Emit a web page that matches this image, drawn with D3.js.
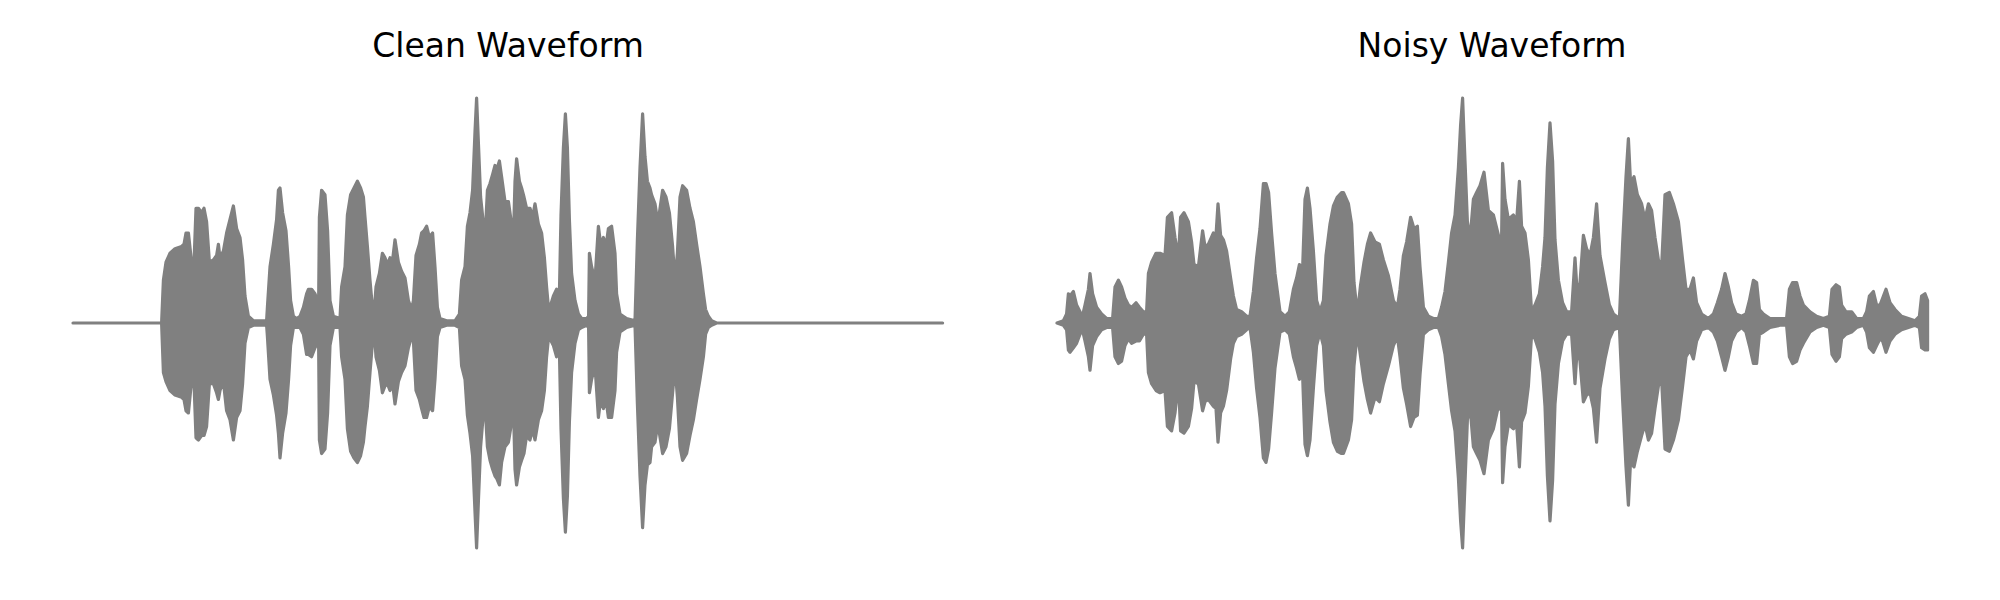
<!DOCTYPE html>
<html>
<head>
<meta charset="utf-8">
<script src="https://cdn.jsdelivr.net/npm/d3@7"></script>
<style>
  html, body { margin: 0; padding: 0; background: #ffffff; }
  svg { display: block; }
</style>
</head>
<body>
<svg id="chart" width="2000" height="600"></svg>
<script>
// ---------- DATA (time in s, envelope max, envelope min) ----------
const panelTitles = ["Clean Waveform", "Noisy Waveform"];
const duration = 4.35;

const cleanEnvelope = [
[0,0,0],[0.443,0,0],[0.452,0.19,-0.22],[0.465,0.27,-0.26],[0.485,0.31,-0.30],[0.51,0.33,-0.32],
[0.543,0.34,-0.33],[0.555,0.35,-0.34],[0.565,0.40,-0.39],[0.577,0.40,-0.40],[0.588,0.31,-0.30],
[0.602,0.19,-0.19],[0.615,0.51,-0.51],[0.627,0.51,-0.52],[0.643,0.49,-0.50],[0.655,0.51,-0.50],
[0.668,0.45,-0.46],[0.682,0.27,-0.27],[0.702,0.28,-0.27],[0.718,0.30,-0.31],[0.727,0.35,-0.34],
[0.735,0.29,-0.30],[0.752,0.32,-0.26],[0.768,0.40,-0.39],[0.785,0.46,-0.43],[0.802,0.52,-0.52],
[0.818,0.42,-0.42],[0.835,0.38,-0.39],[0.848,0.28,-0.27],[0.86,0.12,-0.09],[0.877,0.03,-0.02],
[0.902,0.01,-0.01],[0.968,0.01,-0.01],[0.972,0.07,-0.06],[0.985,0.25,-0.25],[1.002,0.35,-0.32],
[1.018,0.46,-0.41],[1.027,0.59,-0.49],[1.035,0.60,-0.60],[1.048,0.49,-0.49],[1.065,0.41,-0.40],
[1.078,0.25,-0.25],[1.088,0.10,-0.10],[1.102,0.03,-0.02],[1.118,0.02,-0.02],[1.135,0.03,-0.02],
[1.152,0.07,-0.05],[1.168,0.13,-0.14],[1.177,0.15,-0.14],[1.193,0.15,-0.15],[1.21,0.13,-0.11],
[1.222,0.10,-0.09],[1.228,0.08,-0.08],[1.232,0.47,-0.52],[1.243,0.59,-0.58],[1.26,0.57,-0.56],
[1.273,0.41,-0.40],[1.285,0.10,-0.10],[1.302,0.03,-0.02],[1.335,0.02,-0.02],[1.343,0.16,-0.15],
[1.36,0.25,-0.25],[1.372,0.48,-0.47],[1.388,0.57,-0.57],[1.405,0.60,-0.60],[1.422,0.63,-0.62],
[1.438,0.60,-0.59],[1.452,0.56,-0.53],[1.46,0.47,-0.46],[1.472,0.34,-0.37],[1.485,0.19,-0.22],
[1.498,0.06,-0.08],[1.505,0.04,-0.02],[1.515,0.16,-0.15],[1.532,0.22,-0.21],[1.547,0.31,-0.31],
[1.56,0.29,-0.28],[1.572,0.26,-0.27],[1.585,0.29,-0.30],[1.598,0.28,-0.27],[1.61,0.37,-0.36],
[1.627,0.27,-0.26],[1.643,0.23,-0.22],[1.66,0.20,-0.19],[1.677,0.10,-0.11],[1.693,0.06,-0.06],
[1.702,0.10,-0.08],[1.715,0.30,-0.30],[1.732,0.35,-0.34],[1.743,0.40,-0.38],[1.755,0.41,-0.42],
[1.768,0.43,-0.42],[1.782,0.38,-0.37],[1.798,0.40,-0.39],[1.81,0.25,-0.25],[1.822,0.07,-0.06],
[1.835,0.02,-0.02],[1.868,0.01,-0.01],[1.91,0.01,-0.01],[1.932,0.04,-0.02],[1.943,0.19,-0.19],
[1.96,0.25,-0.25],[1.972,0.43,-0.41],[1.985,0.49,-0.49],[1.998,0.59,-0.59],[2.01,0.85,-0.84],
[2.018,1.00,-1.00],[2.028,0.78,-0.77],[2.038,0.56,-0.55],[2.052,0.44,-0.40],[2.06,0.37,-0.36],
[2.072,0.59,-0.55],[2.085,0.62,-0.61],[2.098,0.66,-0.65],[2.11,0.70,-0.68],[2.118,0.68,-0.69],
[2.132,0.72,-0.72],[2.143,0.65,-0.62],[2.16,0.54,-0.55],[2.177,0.54,-0.53],[2.188,0.47,-0.47],
[2.202,0.37,-0.36],[2.21,0.63,-0.65],[2.218,0.73,-0.72],[2.232,0.63,-0.64],[2.243,0.60,-0.61],
[2.255,0.56,-0.58],[2.268,0.51,-0.50],[2.285,0.51,-0.52],[2.298,0.47,-0.47],[2.31,0.53,-0.52],
[2.327,0.44,-0.43],[2.343,0.40,-0.39],[2.357,0.29,-0.30],[2.368,0.16,-0.15],[2.377,0.07,-0.07],
[2.385,0.07,-0.07],[2.402,0.12,-0.10],[2.418,0.15,-0.15],[2.432,0.13,-0.12],[2.44,0.48,-0.47],
[2.452,0.78,-0.78],[2.462,0.93,-0.93],[2.472,0.78,-0.77],[2.482,0.46,-0.44],[2.493,0.22,-0.22],
[2.51,0.10,-0.09],[2.527,0.04,-0.03],[2.543,0.02,-0.02],[2.568,0.02,-0.01],[2.578,0.03,-0.02],
[2.582,0.31,-0.31],[2.593,0.25,-0.25],[2.61,0.19,-0.19],[2.627,0.43,-0.42],[2.638,0.35,-0.34],
[2.652,0.38,-0.38],[2.665,0.34,-0.34],[2.677,0.42,-0.42],[2.693,0.43,-0.42],[2.71,0.31,-0.30],
[2.718,0.13,-0.13],[2.735,0.04,-0.04],[2.768,0.02,-0.02],[2.81,0.01,-0.01],[2.822,0.37,-0.36],
[2.835,0.69,-0.68],[2.848,0.93,-0.91],[2.86,0.74,-0.72],[2.872,0.63,-0.63],[2.885,0.60,-0.62],
[2.893,0.57,-0.55],[2.91,0.53,-0.53],[2.922,0.46,-0.46],[2.932,0.49,-0.49],[2.948,0.59,-0.58],
[2.965,0.56,-0.55],[2.982,0.49,-0.47],[2.998,0.34,-0.31],[3.01,0.19,-0.19],[3.022,0.31,-0.33],
[3.035,0.56,-0.55],[3.048,0.61,-0.61],[3.068,0.59,-0.58],[3.085,0.51,-0.50],[3.102,0.45,-0.43],
[3.118,0.35,-0.34],[3.135,0.25,-0.25],[3.152,0.13,-0.15],[3.163,0.06,-0.05],[3.177,0.03,-0.02],
[3.193,0.01,-0.01],[3.218,0,0],[4.348,0,0]
];

const noisyEnvelope = [
[0,0,0],[0.032,0.01,-0.01],[0.048,0.04,-0.03],[0.057,0.13,-0.12],[0.065,0.12,-0.13],[0.082,0.14,-0.11],
[0.098,0.08,-0.09],[0.115,0.05,-0.05],[0.127,0.03,-0.03],[0.14,0.08,-0.08],[0.157,0.15,-0.15],
[0.165,0.22,-0.21],[0.178,0.13,-0.10],[0.198,0.07,-0.06],[0.223,0.04,-0.03],[0.248,0.02,-0.02],
[0.278,0.02,-0.02],[0.29,0.16,-0.15],[0.307,0.19,-0.18],[0.323,0.16,-0.17],[0.34,0.11,-0.10],
[0.357,0.08,-0.07],[0.373,0.07,-0.09],[0.395,0.09,-0.08],[0.412,0.07,-0.08],[0.432,0.05,-0.05],
[0.448,0.05,-0.05],[0.457,0.22,-0.22],[0.473,0.27,-0.27],[0.495,0.31,-0.30],[0.515,0.31,-0.31],
[0.54,0.30,-0.30],[0.552,0.47,-0.46],[0.573,0.49,-0.48],[0.59,0.38,-0.40],[0.607,0.29,-0.26],
[0.618,0.47,-0.48],[0.635,0.49,-0.49],[0.657,0.45,-0.46],[0.673,0.36,-0.38],[0.685,0.26,-0.26],
[0.707,0.25,-0.27],[0.728,0.41,-0.39],[0.74,0.34,-0.35],[0.757,0.35,-0.34],[0.782,0.40,-0.37],
[0.795,0.39,-0.38],[0.805,0.53,-0.53],[0.818,0.39,-0.40],[0.832,0.37,-0.37],[0.848,0.32,-0.30],
[0.868,0.20,-0.16],[0.882,0.12,-0.09],[0.898,0.06,-0.06],[0.923,0.05,-0.05],[0.948,0.03,-0.03],
[0.965,0.03,-0.02],[0.982,0.14,-0.13],[0.998,0.29,-0.29],[1.015,0.42,-0.42],[1.032,0.62,-0.60],
[1.045,0.62,-0.62],[1.058,0.58,-0.56],[1.073,0.40,-0.40],[1.09,0.22,-0.20],[1.115,0.05,-0.04],
[1.14,0.03,-0.03],[1.162,0.05,-0.05],[1.182,0.15,-0.15],[1.198,0.20,-0.20],[1.212,0.26,-0.25],
[1.228,0.24,-0.23],[1.24,0.55,-0.54],[1.252,0.60,-0.59],[1.265,0.51,-0.52],[1.282,0.32,-0.29],
[1.298,0.10,-0.10],[1.315,0.05,-0.04],[1.332,0.10,-0.10],[1.345,0.30,-0.30],[1.365,0.44,-0.44],
[1.382,0.52,-0.53],[1.402,0.56,-0.57],[1.423,0.58,-0.58],[1.432,0.58,-0.58],[1.457,0.53,-0.52],
[1.473,0.44,-0.43],[1.485,0.18,-0.19],[1.502,0.04,-0.04],[1.518,0.17,-0.15],[1.535,0.27,-0.26],
[1.552,0.35,-0.34],[1.568,0.40,-0.40],[1.59,0.36,-0.33],[1.612,0.35,-0.35],[1.632,0.28,-0.27],
[1.657,0.21,-0.19],[1.682,0.10,-0.10],[1.702,0.07,-0.06],[1.715,0.15,-0.15],[1.732,0.30,-0.29],
[1.748,0.36,-0.36],[1.768,0.47,-0.46],[1.785,0.42,-0.42],[1.802,0.43,-0.41],[1.815,0.25,-0.23],
[1.832,0.07,-0.05],[1.857,0.03,-0.03],[1.882,0.02,-0.02],[1.907,0.02,-0.02],[1.923,0.07,-0.06],
[1.94,0.14,-0.14],[1.957,0.27,-0.27],[1.973,0.40,-0.39],[1.99,0.48,-0.48],[2.007,0.69,-0.69],
[2.018,0.88,-0.88],[2.028,1.00,-1.00],[2.04,0.72,-0.71],[2.052,0.45,-0.43],[2.065,0.37,-0.37],
[2.082,0.55,-0.55],[2.098,0.58,-0.58],[2.115,0.61,-0.61],[2.135,0.67,-0.67],[2.157,0.50,-0.52],
[2.182,0.48,-0.47],[2.207,0.39,-0.37],[2.223,0.38,-0.39],[2.228,0.71,-0.71],[2.24,0.55,-0.55],
[2.257,0.46,-0.45],[2.282,0.48,-0.47],[2.298,0.45,-0.45],[2.312,0.63,-0.64],[2.323,0.43,-0.44],
[2.34,0.40,-0.40],[2.357,0.28,-0.28],[2.373,0.05,-0.05],[2.39,0.08,-0.07],[2.412,0.13,-0.13],
[2.428,0.25,-0.22],[2.44,0.38,-0.37],[2.452,0.69,-0.68],[2.465,0.89,-0.88],[2.478,0.72,-0.70],
[2.49,0.37,-0.36],[2.507,0.19,-0.18],[2.528,0.09,-0.08],[2.548,0.05,-0.05],[2.573,0.05,-0.05],
[2.59,0.29,-0.27],[2.602,0.12,-0.10],[2.615,0.18,-0.17],[2.632,0.39,-0.35],[2.648,0.33,-0.32],
[2.665,0.30,-0.31],[2.682,0.38,-0.38],[2.698,0.53,-0.53],[2.715,0.30,-0.29],[2.74,0.18,-0.16],
[2.762,0.08,-0.07],[2.782,0.04,-0.03],[2.812,0.02,-0.02],[2.828,0.35,-0.34],[2.845,0.65,-0.64],
[2.857,0.82,-0.81],[2.868,0.62,-0.61],[2.885,0.65,-0.64],[2.902,0.57,-0.57],[2.923,0.53,-0.50],
[2.94,0.46,-0.45],[2.957,0.53,-0.52],[2.973,0.50,-0.49],[2.99,0.38,-0.38],[3.007,0.28,-0.28],
[3.023,0.25,-0.25],[3.04,0.57,-0.56],[3.062,0.58,-0.57],[3.082,0.53,-0.52],[3.107,0.45,-0.43],
[3.128,0.28,-0.28],[3.145,0.15,-0.15],[3.165,0.15,-0.12],[3.182,0.20,-0.16],[3.198,0.09,-0.08],
[3.223,0.04,-0.03],[3.257,0.02,-0.02],[3.282,0.04,-0.04],[3.302,0.09,-0.08],[3.323,0.15,-0.15],
[3.34,0.22,-0.21],[3.357,0.16,-0.15],[3.373,0.09,-0.08],[3.395,0.04,-0.04],[3.423,0.03,-0.02],
[3.445,0.04,-0.04],[3.462,0.10,-0.10],[3.482,0.19,-0.18],[3.498,0.18,-0.18],[3.512,0.06,-0.05],
[3.532,0.04,-0.04],[3.565,0.02,-0.02],[3.615,0.02,-0.01],[3.648,0.02,-0.01],[3.662,0.15,-0.15],
[3.678,0.18,-0.18],[3.698,0.18,-0.17],[3.715,0.12,-0.12],[3.732,0.08,-0.09],[3.765,0.05,-0.04],
[3.798,0.03,-0.02],[3.832,0.02,-0.01],[3.862,0.03,-0.02],[3.875,0.15,-0.14],[3.895,0.17,-0.17],
[3.912,0.16,-0.15],[3.923,0.08,-0.07],[3.945,0.05,-0.05],[3.973,0.05,-0.04],[3.998,0.02,-0.02],
[4.032,0.02,-0.01],[4.048,0.05,-0.04],[4.062,0.12,-0.11],[4.082,0.14,-0.13],[4.098,0.08,-0.10],
[4.115,0.08,-0.07],[4.128,0.11,-0.08],[4.145,0.15,-0.13],[4.165,0.09,-0.08],[4.19,0.06,-0.05],
[4.223,0.03,-0.03],[4.257,0.02,-0.02],[4.29,0.01,-0.01],[4.312,0.03,-0.02],[4.323,0.12,-0.11],
[4.34,0.13,-0.12],[4.353,0.10,-0.12]
];

// ---------- LAYOUT ----------
const svg = d3.select("#chart");
const panels = [
  { title: panelTitles[0], data: cleanEnvelope, left: 73, right: 943 },
  { title: panelTitles[1], data: noisyEnvelope, left: 1057, right: 1927 }
];
const yTop = 98, yBottom = 548;
const waveColor = "#808080";

const y = d3.scaleLinear().domain([-1, 1]).range([yBottom, yTop]);

panels.forEach(p => {
  const x = d3.scaleLinear().domain([0, duration]).range([p.left, p.right]);
  const area = d3.area()
    .x(d => x(d[0]))
    .y0(d => y(d[2]))
    .y1(d => y(d[1]))
    .curve(d3.curveLinear);

  svg.append("path")
    .datum(p.data)
    .attr("d", area)
    .attr("fill", waveColor)
    .attr("stroke", waveColor)
    .attr("stroke-width", 3.2)
    .attr("stroke-linejoin", "round")
    .attr("stroke-linecap", "round");

  svg.append("text")
    .attr("x", (p.left + p.right) / 2)
    .attr("y", 57)
    .attr("text-anchor", "middle")
    .attr("font-family", "DejaVu Sans, sans-serif")
    .attr("font-size", 33)
    .attr("fill", "#000000")
    .text(p.title);
});
</script>
</body>
</html>
